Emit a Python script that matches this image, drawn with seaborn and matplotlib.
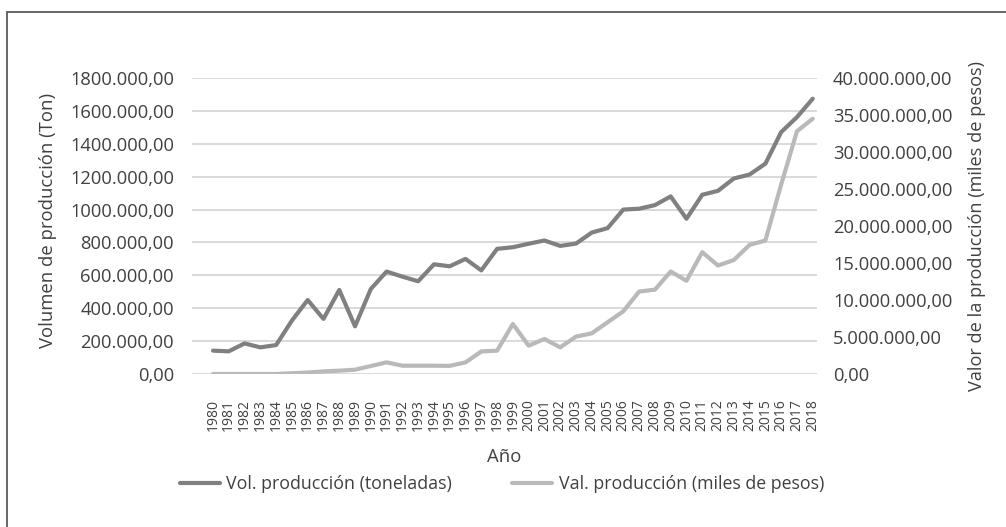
import pandas as pd
import seaborn as sns
import matplotlib
matplotlib.use("Agg")
from matplotlib import pyplot as plt
from matplotlib.patches import Rectangle
from matplotlib.ticker import FuncFormatter, MultipleLocator

# data
years = list(range(1980, 2019))
volume_ton = [
    142000, 138000, 186000, 162000, 176000, 325000, 450000, 335000, 511000, 290000,
    517000, 623000, 592000, 564000, 667000, 655000, 700000, 630000, 761000, 771000,
    792000, 812000, 779000, 793000, 860000, 887000, 1000000, 1005000, 1027000, 1080000,
    944000, 1090000, 1114000, 1189000, 1213000, 1279000, 1471000, 1562000, 1674000,
]
value_pesos = [
    0, 0, 0, 0, 0, 100000, 200000, 350000, 450000, 580000,
    1080000, 1570000, 1120000, 1120000, 1120000, 1100000, 1570000, 3050000, 3150000, 6760000,
    3830000, 4730000, 3600000, 5050000, 5500000, 6990000, 8480000, 11140000, 11400000, 13850000,
    12600000, 16460000, 14660000, 15400000, 17450000, 18040000, 25600000, 32800000, 34500000,
]
vol_label = "Vol. producción (toneladas)"
val_label = "Val. producción (miles de pesos)"

df = pd.DataFrame({"pos": range(len(years)), "vol": volume_ton, "val": value_pesos})

sns.set_style("white")
plt.rcParams["font.family"] = ["Open Sans", "DejaVu Sans"]
text_color = "#404040"
dark = "#808080"
light = "#b9b9b9"

W, H = 1006, 527
fig = plt.figure(figsize=(W / 100, H / 100), dpi=100)
ax = fig.add_axes([192 / W, 1 - 374 / H, (817 - 192) / W, (374 - 78) / H])
ax2 = ax.twinx()

sns.lineplot(data=df, x="pos", y="vol", ax=ax, color=dark, linewidth=3.0,
             label=vol_label, legend=False)
sns.lineplot(data=df, x="pos", y="val", ax=ax2, color=light, linewidth=3.0,
             label=val_label, legend=False)

ax.set_ylim(0, 1800000)
ax2.set_ylim(0, 40000000)
ax.yaxis.set_major_locator(MultipleLocator(200000))
ax2.yaxis.set_major_locator(MultipleLocator(5000000))
ax.set_xlim(-1.33, 38.27)


def left_fmt(v, pos):
    v = int(round(v))
    if v == 0:
        return "0,00"
    return f"{v // 1000}.{v % 1000:03d},00"


def right_fmt(v, pos):
    return f"{int(round(v)):,}".replace(",", ".") + ",00"


ax.yaxis.set_major_formatter(FuncFormatter(left_fmt))
ax2.yaxis.set_major_formatter(FuncFormatter(right_fmt))

ax.set_xticks(range(len(years)))
ax.set_xticklabels([str(y) for y in years], rotation=90, fontsize=10, color=text_color)
ax.tick_params(axis="x", length=0, pad=18)
ax.tick_params(axis="y", length=0, pad=13, labelsize=13.2, labelcolor=text_color)
ax2.tick_params(axis="y", length=0, pad=11.5, labelsize=13.2, labelcolor=text_color)

ax.grid(axis="y", color="#d9d9d9", linewidth=1.4)
ax.set_axisbelow(True)
for a in (ax, ax2):
    for s in a.spines.values():
        s.set_visible(False)

ax.set_xlabel("Año", fontsize=13.3, color=text_color)
ax.xaxis.set_label_coords(0.5, -(448 - 374) / 296)
ax.set_ylabel("Volumen de producción (Ton)", fontsize=13.3, color=text_color)
ax.yaxis.set_label_coords((57 - 192) / 625, 0.52)
ax2.set_ylabel("Valor de la producción (miles de pesos)", fontsize=13.1, color=text_color)
ax2.yaxis.set_label_coords((968 - 192) / 625, 0.5)

handles = ax.get_lines()[:1] + ax2.get_lines()[:1]
fig.legend(handles, [vol_label, val_label], loc="center",
           bbox_to_anchor=(502 / W, 1 - 484 / H), ncol=2, frameon=False,
           fontsize=12.8, handlelength=2.25, handletextpad=0.35, columnspacing=3.4,
           labelcolor=text_color)

# outer frame of the original figure (cut at right and bottom)
fig.patches.append(Rectangle((7 / W, -0.1), 1.2, 1.1 - 12 / H, transform=fig.transFigure,
                             fill=False, edgecolor="#595959", linewidth=1.3))

fig.savefig("out.png", dpi=100)
